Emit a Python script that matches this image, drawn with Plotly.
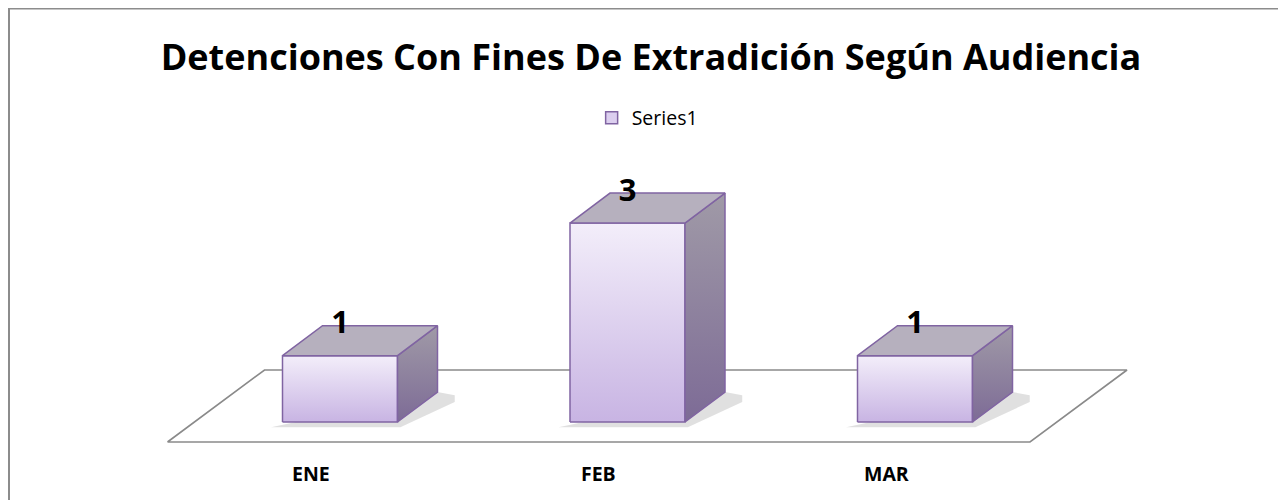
import plotly.graph_objects as go

categories = ["ENE", "FEB", "MAR"]
values = [1, 3, 1]
series_name = "Series1"
title_text = "Detenciones Con Fines De Extradición Según Audiencia"

W, H = 1286, 500
PX_X = 287.5      # pixels per category step
PX_Y = 66.3       # pixels per value unit
X0PX = 332        # pixel x of first category (figure coords)
BASEPX = 414      # pixel y of value 0 (figure coords)

half = 0.2                 # half bar width (category units)
dx = 40 / PX_X             # 3-D depth offset x
dy = 30 / PX_Y             # 3-D depth offset y

FONT = "Open Sans"
EDGE = "#8064A2"

fig = go.Figure()

# floor
n = len(categories)
fl_l, fl_r = -0.6, n - 0.6
fl_y = -20 / PX_Y
fdx, fdy = 97 / PX_X, 72 / PX_Y
fig.add_trace(go.Scatter(
    x=[fl_l, fl_r, fl_r + fdx, fl_l + fdx, fl_l],
    y=[fl_y, fl_y, fl_y + fdy, fl_y + fdy, fl_y],
    mode="lines", line=dict(color="#8a8a8a", width=1.6),
    fill="toself", fillcolor="white", showlegend=False, hoverinfo="skip"))

for i, v in enumerate(values):
    xl, xr = i - half, i + half
    # soft shadow
    fig.add_trace(go.Scatter(
        x=[xl - 0.04, xr + 0.01, xr + dx + 0.06, xr + dx + 0.06, xr + dx, xl - 0.04],
        y=[-0.08, -0.08, dy - 0.15, dy - 0.05, dy, -0.08],
        mode="lines", line=dict(width=0), fill="toself",
        fillcolor="rgba(0,0,0,0.12)", showlegend=False, hoverinfo="skip"))
    # front face
    fig.add_trace(go.Scatter(
        x=[xl, xr, xr, xl, xl], y=[0, 0, v, v, 0],
        mode="lines", line=dict(color=EDGE, width=1.5),
        fill="toself", fillcolor="#DCCFEF",
        fillgradient=dict(type="vertical", colorscale=[[0, "#C8B4E3"], [1, "#F3EEFA"]]),
        showlegend=False, hoverinfo="skip"))
    # side face
    fig.add_trace(go.Scatter(
        x=[xr, xr + dx, xr + dx, xr, xr], y=[0, dy, v + dy, v, 0],
        mode="lines", line=dict(color=EDGE, width=1.5),
        fill="toself", fillcolor="#8E82A0",
        fillgradient=dict(type="vertical", colorscale=[[0, "#7D6B96"], [1, "#A09AA7"]]),
        showlegend=False, hoverinfo="skip"))
    # top face
    fig.add_trace(go.Scatter(
        x=[xl, xr, xr + dx, xl + dx, xl], y=[v, v, v + dy, v + dy, v],
        mode="lines", line=dict(color=EDGE, width=1.5),
        fill="toself", fillcolor="#B6B0BE", showlegend=False, hoverinfo="skip"))

# legend entry
fig.add_trace(go.Scatter(
    x=[None], y=[None], mode="markers", name=series_name,
    marker=dict(symbol="square", size=12, color="#DCCFEF", line=dict(color=EDGE, width=1.5))))

# data labels
fig.add_trace(go.Scatter(
    x=list(range(n)), y=[v + dy for v in values],
    mode="text", text=[str(v) for v in values], textposition="middle center",
    textfont=dict(family=FONT, size=31, color="black", weight="bold"),
    showlegend=False, hoverinfo="skip"))

# category labels
for i, c in enumerate(categories):
    fig.add_annotation(x=i - 29 / PX_X, y=(BASEPX - 465) / PX_Y, text=c, showarrow=False,
                       font=dict(family=FONT, size=19.5, color="black", weight="bold"))

fig.update_layout(
    width=W, height=H,
    margin=dict(l=0, r=0, t=0, b=0),
    paper_bgcolor="white", plot_bgcolor="white",
    title=dict(text=title_text, x=0.5, xanchor="center", y=1 - 49 / H, yanchor="middle",
               yref="container", xref="paper",
               font=dict(family=FONT, size=36, color="black", weight="bold")),
    legend=dict(orientation="h", x=0.497, xanchor="center", y=1 - 110 / H, yanchor="middle",
                font=dict(family=FONT, size=19.5, color="black"), bgcolor="rgba(0,0,0,0)",
                itemwidth=30),
    xaxis=dict(range=[-X0PX / PX_X, (W - X0PX) / PX_X], visible=False, fixedrange=True),
    yaxis=dict(range=[-(H - BASEPX) / PX_Y, BASEPX / PX_Y], visible=False, fixedrange=True),
    shapes=[dict(type="rect", xref="paper", yref="paper",
                 x0=1 / W, x1=1.02, y0=-0.02, y1=1 - 0.5 / H,
                 line=dict(color="#8c8c8c", width=2), layer="above")],
    showlegend=True,
)

fig.write_html("out.html")
